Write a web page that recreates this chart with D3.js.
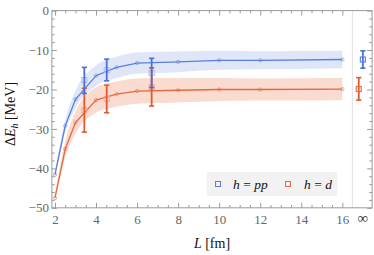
<!DOCTYPE html>
<html><head><meta charset="utf-8">
<script src="https://cdn.jsdelivr.net/npm/d3@7"></script>
<style>
html,body{margin:0;padding:0;background:#fff;}
svg{display:block;font-family:"Liberation Serif","Times New Roman",serif;}
</style></head>
<body>
<svg id="c" width="374" height="255"></svg>
<script>
// ---- data ----
const L = [2, 2.5, 3, 4, 5, 6, 8, 10, 12, 16];
const ppVals = [-41.6, -29.2, -22.5, -16.5, -14.4, -13.3, -13.0, -12.6, -12.6, -12.4];
const dVals  = [-47.5, -35.1, -28.4, -22.7, -21.2, -20.4, -20.2, -20.0, -20.0, -19.9];
const ppBand = [0.8, 1.5, 2.2, 2.6, 2.7, 2.7, 2.6, 2.4, 2.3, 2.2];
const dBand  = [1.0, 2.0, 2.8, 3.2, 3.2, 3.2, 3.1, 2.9, 2.8, 2.8];
const latL = [3.43, 4.52, 6.71];
const ppLat = [-17.6, -15.1, -15.8];
const ppLo  = [-21.0, -17.8, -19.5];
const ppHi  = [-14.4, -12.3, -12.1];
const dLat  = [-25.3, -22.4, -19.4];
const dLo   = [-30.8, -25.9, -24.2];
const dHi   = [-19.7, -18.9, -14.5];
const infL = {pp: 17.0, d: 16.8};
const ppInf = [-12.4, -14.6, -10.2];
const dInf  = [-19.9, -22.7, -17.0];
const xTicks = [2, 4, 6, 8, 10, 12, 14, 16];
const yTicks = [0, -10, -20, -30, -40, -50];

const C = {
  blue:"#5a7fe0", blueBar:"#4a6fd9", blueBand:"#dfe6f8", blueLight:"#a9bbee",
  red:"#e8673e", redBar:"#e05a2e", redBand:"#fadbd0", redLight:"#f0a88f",
  frame:"#9a9a9a", tick:"#666"
};

const svg = d3.select("#c");
const x = d3.scaleLinear().domain([1.85, 17.45]).range([51.9, 372.1]);
const y = d3.scaleLinear().domain([-50, 0]).range([207.8, 10.6]);

// bands
function band(vals, hw, color){
  const pts = L.map((l,i)=>({l, lo: vals[i]-hw[i], hi: vals[i]+hw[i]}));
  svg.append("path").datum(pts)
    .attr("d", d3.area().x(d=>x(d.l)).y0(d=>y(d.lo)).y1(d=>y(d.hi)).curve(d3.curveMonotoneX))
    .attr("fill", color);
}
band(ppVals, ppBand, C.blueBand);
band(dVals, dBand, C.redBand);

// separator line
svg.append("line").attr("x1", x(16.49)).attr("x2", x(16.49))
  .attr("y1", y(0)).attr("y2", y(-50)).attr("stroke", "#e2e2e2").attr("stroke-width", 1);

// infinity bands? none. lines
function series(vals, color){
  const pts = L.map((l,i)=>[l, vals[i]]);
  svg.append("path").datum(pts)
    .attr("d", d3.line().x(d=>x(d[0])).y(d=>y(d[1])))
    .attr("fill","none").attr("stroke", color).attr("stroke-width", 1.3);
  svg.append("g").selectAll("circle").data(pts).join("circle")
    .attr("cx", d=>x(d[0])).attr("cy", d=>y(d[1])).attr("r", 1.7)
    .attr("fill","none").attr("stroke", color).attr("stroke-opacity", 0.55).attr("stroke-width", 0.9);
}
series(ppVals, C.blue);
series(dVals, C.red);

// lattice squares and error bars
function errbar(g, xv, lo, hi, color){
  const cx = x(xv);
  g.append("line").attr("x1",cx).attr("x2",cx).attr("y1",y(lo)).attr("y2",y(hi))
    .attr("stroke",color).attr("stroke-width",1.8);
  [lo,hi].forEach(v=>g.append("line").attr("x1",cx-2.6).attr("x2",cx+2.6)
    .attr("y1",y(v)).attr("y2",y(v)).attr("stroke",color).attr("stroke-width",1.6));
}
function square(g, xv, v, color, s, sw){
  g.append("rect").attr("x", x(xv)-s/2).attr("y", y(v)-s/2).attr("width", s).attr("height", s)
    .attr("fill","none").attr("stroke",color).attr("stroke-width",sw);
}
const gl = svg.append("g");
latL.forEach((l,i)=>{ square(gl, l, dLat[i], C.redLight, 5, 1); });
latL.forEach((l,i)=>{ errbar(gl, l, dLo[i], dHi[i], C.redBar); });
latL.forEach((l,i)=>{ square(gl, l, ppLat[i], C.blueLight, 5, 1); });
latL.forEach((l,i)=>{ errbar(gl, l, ppLo[i], ppHi[i], C.blueBar); });

// infinity points
errbar(gl, infL.pp, ppInf[1], ppInf[2], C.blueBar);
square(gl, infL.pp, ppInf[0], C.blue, 5, 1.1);
errbar(gl, infL.d, dInf[1], dInf[2], C.redBar);
square(gl, infL.d, dInf[0], C.red, 5, 1.1);

// frame
const fr = svg.append("g").attr("stroke", C.frame).attr("fill","none").attr("stroke-width",1);
fr.append("rect").attr("x", x.range()[0]).attr("y", y(0))
  .attr("width", x.range()[1]-x.range()[0]).attr("height", y(-50)-y(0));

function styleAxis(g){
  g.select(".domain").remove();
  g.selectAll(".tick line").attr("stroke", C.frame);
  g.selectAll(".tick text").attr("fill", C.tick).attr("font-size", 13)
    .attr("font-family", "'Liberation Serif', serif");
}
const minorX = d3.range(2, 16.01, 0.5).filter(v=>v%2!==0);
const minorY = d3.range(-50, 0.01, 2).filter(v=>v%10!==0);
const fmt = v => (v<0 ? "\u2212" + Math.abs(v) : "" + v);

// bottom
svg.append("g").attr("transform",`translate(0,${y(-50)})`)
  .call(d3.axisBottom(x).tickValues(xTicks).tickFormat(fmt).tickSizeInner(-5).tickSizeOuter(0).tickPadding(7))
  .call(styleAxis);
svg.append("g").attr("transform",`translate(0,${y(-50)})`)
  .call(d3.axisBottom(x).tickValues(minorX).tickFormat("").tickSizeInner(-2.8).tickSizeOuter(0))
  .call(styleAxis);
// top
svg.append("g").attr("transform",`translate(0,${y(0)})`)
  .call(d3.axisTop(x).tickValues(xTicks).tickFormat("").tickSizeInner(-5).tickSizeOuter(0))
  .call(styleAxis);
svg.append("g").attr("transform",`translate(0,${y(0)})`)
  .call(d3.axisTop(x).tickValues(minorX).tickFormat("").tickSizeInner(-2.8).tickSizeOuter(0))
  .call(styleAxis);
// left
svg.append("g").attr("transform",`translate(${x.range()[0]},0)`)
  .call(d3.axisLeft(y).tickValues(yTicks).tickFormat(fmt).tickSizeInner(-5).tickSizeOuter(0).tickPadding(3))
  .call(styleAxis);
svg.append("g").attr("transform",`translate(${x.range()[0]},0)`)
  .call(d3.axisLeft(y).tickValues(minorY).tickFormat("").tickSizeInner(-2.8).tickSizeOuter(0))
  .call(styleAxis);
// right
svg.append("g").attr("transform",`translate(${x.range()[1]},0)`)
  .call(d3.axisRight(y).tickValues(yTicks).tickFormat("").tickSizeInner(-5).tickSizeOuter(0))
  .call(styleAxis);
svg.append("g").attr("transform",`translate(${x.range()[1]},0)`)
  .call(d3.axisRight(y).tickValues(minorY).tickFormat("").tickSizeInner(-2.8).tickSizeOuter(0))
  .call(styleAxis);

// infinity label
svg.append("text").attr("x", x(infL.pp)).attr("y", y(-50)+15).attr("text-anchor","middle")
  .attr("font-size", 15).attr("fill", "#333").text("\u221E");

// axis labels
const xl = svg.append("text").attr("x", 212).attr("y", 248).attr("text-anchor","middle")
  .attr("font-size", 14).attr("fill","#111");
xl.append("tspan").attr("font-style","italic").text("L");
xl.append("tspan").text(" [fm]");

const yl = svg.append("text").attr("transform","translate(15,114) rotate(-90)")
  .attr("text-anchor","middle").attr("font-size", 14).attr("fill","#111");
yl.append("tspan").text("\u0394");
yl.append("tspan").attr("font-style","italic").text("E");
yl.append("tspan").attr("font-style","italic").attr("font-size", 10).attr("dy", 3).text("h");
yl.append("tspan").attr("dy", -3).text(" [MeV]");

// legend
const lg = svg.append("g");
lg.append("rect").attr("x", 207).attr("y", 172).attr("width", 130).attr("height", 24).attr("fill", "#f2f2f2");
const legendItems = [
  {mx: 218, tx: 233, color: C.blue, h: "h", rest: "pp"},
  {mx: 288, tx: 304, color: C.red, h: "h", rest: "d"}
];
legendItems.forEach(it=>{
  lg.append("rect").attr("x", it.mx-2.5).attr("y", 184-2.5).attr("width",5).attr("height",5)
    .attr("fill","none").attr("stroke", it.color).attr("stroke-width",1);
  const t = lg.append("text").attr("x", it.tx).attr("y", 189).attr("font-size", 13.5).attr("fill","#111");
  t.append("tspan").attr("font-style","italic").text(it.h);
  t.append("tspan").text(" = ");
  t.append("tspan").attr("font-style","italic").text(it.rest);
});
</script>
</body></html>
